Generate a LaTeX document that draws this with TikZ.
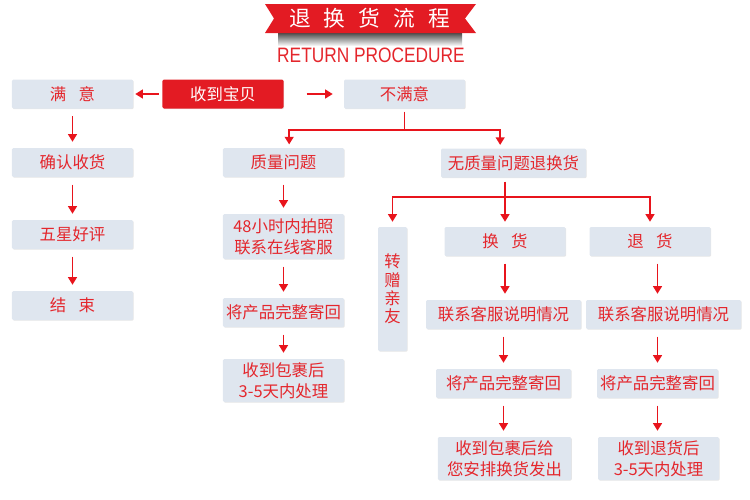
\documentclass[tikz,border=0pt]{standalone}
\usepackage{fontspec}
\newfontfamily\cjk{Noto Sans CJK SC}
\newfontfamily\latin{Liberation Sans}
\usetikzlibrary{arrows.meta,shadows}
\definecolor{boxfill}{HTML}{DFE6EF}
\definecolor{textred}{HTML}{E4262C}
\definecolor{linered}{HTML}{E8141C}
\definecolor{bannerred}{HTML}{E31B23}

\begin{document}
\begin{tikzpicture}[x=0.03cm,y=-0.03cm,
    box/.style={rectangle, rounded corners=1.2pt, fill=boxfill, text=textred,
        inner sep=0pt, minimum width=3.63cm, minimum height=0.87cm, align=center,
        font=\cjk\fontsize{14}{18}\selectfont,
        drop shadow={shadow xshift=0.6pt, shadow yshift=-0.6pt, opacity=0.2}},
    arr/.style={draw=linered, line width=1.6pt, -{Triangle[length=6.5pt,width=7.5pt]},
        shorten <=0.22cm, shorten >=0.18cm},
    fork/.style={draw=linered, line width=1.6pt},
    forkarr/.style={fork, -{Triangle[length=6.5pt,width=7.5pt]}, shorten >=0.1cm}]
\useasboundingbox (0,0) rectangle (750,499);

% title
\shade[top color=black!70, bottom color=white] (278,33) rectangle (462,46);
\fill[bannerred] (265,4) -- (476,4) -- (465,18.5) -- (476,33) -- (265,33) -- (274,18.5) -- cycle;
\node[text=white, font=\cjk\fontsize{18.5}{20}\selectfont] (title) at (369.5,18.5)
    {退\hspace{0.6em}换\hspace{0.6em}货\hspace{0.6em}流\hspace{0.6em}程};
\node[text=textred, font=\latin\fontsize{17.8}{20}\selectfont, xscale=0.83] (subtitle) at (371,55.5)
    {RETURN PROCEDURE};

% top row
\node[box] (manyi) at (72.5,94) {满\hspace{0.75em}意};
\node[box, fill=bannerred, text=white] (shoudao) at (223,94) {收到宝贝};
\node[box] (bumanyi) at (404.5,94) {不满意};

% satisfied
\node[box] (queren) at (72.5,162.5) {确认收货};
\node[box] (wuxing) at (72.5,234.5) {五星好评};
\node[box] (jieshu) at (72.5,305.5) {结\hspace{0.75em}束};

% quality problem
\node[box] (zhiliang) at (283.5,162.5) {质量问题};
\node[box, minimum height=1.35cm] (paizhao) at (283.5,236.5) {48小时内拍照\\联系在线客服};
\node[box] (jihui) at (283.5,312.5) {将产品完整寄回};
\node[box, minimum height=1.29cm] (chuli) at (283.5,380.5) {收到包裹后\\3-5天内处理};

% no quality problem
\node[box, minimum width=4.35cm] (wuzhiliang) at (513.5,163) {无质量问题退换货};
\node[box, minimum width=0.87cm, minimum height=3.72cm, font=\cjk\fontsize{14}{15.5}\selectfont]
    (zhuanzeng) at (392.5,289) {转\\赠\\亲\\友};
\node[box] (huanhuo) at (505,241.5) {换\hspace{0.75em}货};
\node[box] (tuihuo) at (650,241.5) {退\hspace{0.75em}货};
\node[box, minimum width=4.65cm] (lianxiA) at (503.5,314.5) {联系客服说明情况};
\node[box, minimum width=4.65cm] (lianxiB) at (663.5,314.5) {联系客服说明情况};
\node[box, minimum width=4.05cm] (jihuiA) at (503.5,383.5) {将产品完整寄回};
\node[box] (jihuiB) at (657.5,383.5) {将产品完整寄回};
\node[box, minimum width=4cm, minimum height=1.29cm] (fachu) at (504.5,458.5) {收到包裹后给\\您安排换货发出};
\node[box, minimum height=1.29cm] (chuliB) at (658.5,458.5) {收到退货后\\3-5天内处理};

% arrows
\draw[arr, shorten <=0.1cm, shorten >=0.06cm] (shoudao) -- (manyi);
\draw[arr, shorten <=0.69cm, shorten >=0.33cm] (shoudao) -- (bumanyi);
\draw[arr] (manyi) -- (queren);
\draw[arr] (queren) -- (wuxing);
\draw[arr] (wuxing) -- (jieshu);
\draw[arr] (zhiliang) -- (paizhao);
\draw[arr] (paizhao) -- (jihui);
\draw[arr] (jihui) -- (chuli);

\coordinate (fork1) at (404.5,130);
\draw[fork, shorten <=0.09cm] (bumanyi) -- (fork1);
\draw[forkarr] (fork1) -| ([xshift=0.17cm]zhiliang.north);
\draw[forkarr] (fork1) -| ([xshift=-0.4cm]wuzhiliang.north);

\coordinate (fork2) at (505,197);
\draw[fork, shorten <=0.12cm] (wuzhiliang.south -| fork2) -- (fork2);
\draw[forkarr, shorten >=0.15cm] (fork2) -- (huanhuo);
\draw[forkarr, shorten >=0.15cm] (fork2) -| (zhuanzeng);
\draw[forkarr, shorten >=0.15cm] (fork2) -| (tuihuo);

\draw[arr] (huanhuo) -- (huanhuo |- lianxiA.north);
\draw[arr] (lianxiA) -- (jihuiA);
\draw[arr] (jihuiA) -- (jihuiA |- fachu.north);
\draw[arr] (tuihuo.south -| jihuiB) -- (lianxiB.north -| jihuiB);
\draw[arr] (lianxiB.south -| jihuiB) -- (jihuiB);
\draw[arr] (jihuiB) -- (jihuiB |- chuliB.north);
\end{tikzpicture}
\end{document}
